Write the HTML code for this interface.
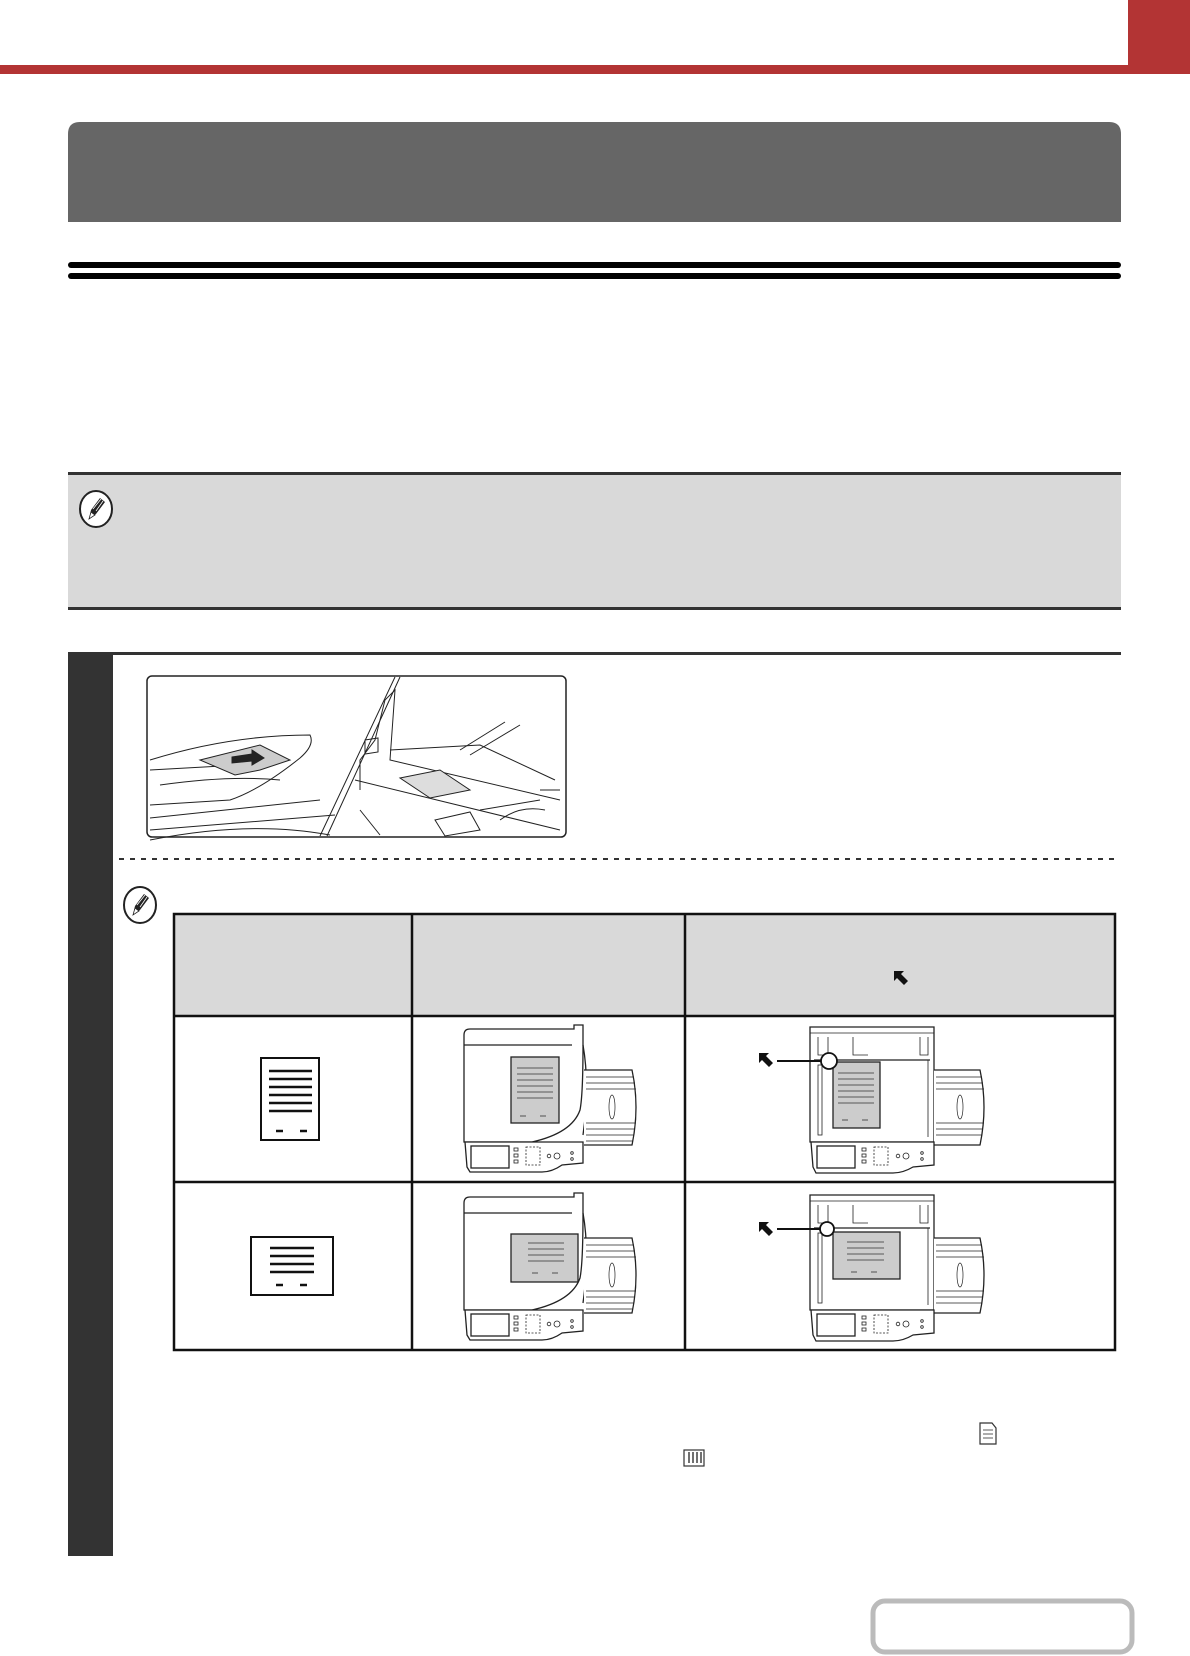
<!DOCTYPE html>
<html><head><meta charset="utf-8"><style>
html,body{margin:0;padding:0;background:#fff;}
body{width:1190px;height:1656px;overflow:hidden;font-family:"Liberation Sans",sans-serif;}
svg{display:block}
</style></head><body>
<svg width="1190" height="1656" viewBox="0 0 1190 1656" xmlns="http://www.w3.org/2000/svg">
<defs>
  <g id="adf" fill="none" stroke="#222" stroke-width="1.3">
    <path d="M2 10 Q2 4 8 4 L112 4 L112 0 L121 0 L121 20 Q121 70 118 85 Q110 108 70 117 L2 117 Z" fill="#fff"/>
    <line x1="2" y1="20" x2="110" y2="20"/>
    <path d="M121 20 Q128 60 121 110"/>
    <path d="M122 45 L170 45 Q178 82 170 120 L122 120" fill="#fff"/>
    <g stroke-width="0.7">
      <line x1="124" y1="52" x2="172" y2="52"/><line x1="124" y1="58" x2="173" y2="58"/>
      <line x1="124" y1="64" x2="174" y2="64"/><line x1="124" y1="98" x2="174" y2="98"/>
      <line x1="124" y1="104" x2="173" y2="104"/><line x1="124" y1="110" x2="172" y2="110"/>
      <line x1="124" y1="116" x2="171" y2="116"/>
      <ellipse cx="150" cy="82" rx="3" ry="12"/>
    </g>
    <path d="M3 117 L121 117 L121 138 L100 140 Q90 147 80 147 L8 147 L5 142 Z" fill="#fff"/>
    <rect x="9" y="121" width="38" height="22"/>
    <g stroke-width="0.8"><rect x="52" y="123" width="4" height="3"/><rect x="52" y="129" width="4" height="3"/><rect x="52" y="135" width="4" height="3"/>
    <rect x="64" y="122" width="14" height="18" stroke-dasharray="2 1.5"/><circle cx="87" cy="131" r="1.8"/><circle cx="95" cy="131" r="3"/><circle cx="110" cy="128" r="1.3"/><circle cx="110" cy="134" r="1.3"/></g>
  </g>
  <g id="glass" fill="none" stroke="#222" stroke-width="1.3">
    <path d="M2 2 L126 2 L126 117 L2 117 Z" fill="#fff"/>
    <path d="M2 8 L126 8" stroke-width="0.8"/>
    <path d="M10 12 L10 30 L20 30 L20 12 M112 12 L112 30 L120 30 L120 12 M45 12 L45 30 L60 30" stroke-width="0.8"/>
    <line x1="6" y1="35" x2="122" y2="35"/>
    <rect x="10" y="40" width="4" height="70" stroke-width="0.8"/>
    <line x1="120" y1="35" x2="120" y2="112" stroke-width="0.8"/>
    <path d="M126 45 L172 45 Q180 82 172 120 L126 120" fill="#fff"/>
    <g stroke-width="0.7">
      <line x1="128" y1="52" x2="174" y2="52"/><line x1="128" y1="58" x2="175" y2="58"/>
      <line x1="128" y1="64" x2="176" y2="64"/><line x1="128" y1="98" x2="176" y2="98"/>
      <line x1="128" y1="104" x2="175" y2="104"/><line x1="128" y1="110" x2="174" y2="110"/>
      <ellipse cx="152" cy="82" rx="3" ry="12"/>
    </g>
    <path d="M3 117 L126 117 L126 140 L105 142 Q95 148 85 148 L8 148 L5 142 Z" fill="#fff"/>
    <rect x="9" y="121" width="38" height="22"/>
    <g stroke-width="0.8"><rect x="54" y="123" width="4" height="3"/><rect x="54" y="129" width="4" height="3"/><rect x="54" y="135" width="4" height="3"/>
    <rect x="66" y="122" width="14" height="18" stroke-dasharray="2 1.5"/><circle cx="90" cy="131" r="1.8"/><circle cx="98" cy="131" r="3"/><circle cx="114" cy="128" r="1.3"/><circle cx="114" cy="134" r="1.3"/></g>
  </g>
  <g id="pencil">
    <ellipse cx="0" cy="0" rx="16" ry="18" fill="#fff" stroke="#222" stroke-width="2"/>
    <path d="M-7 10 L-5 1 L4 -11 L9 -7 L0 5 Z" fill="#222"/>
    <path d="M-7 10 L-5 3 L-1 6 Z" fill="#fff" stroke="#222" stroke-width="0.8"/>
    <path d="M-3 0 L5 -10 M0 2 L7 -8" stroke="#fff" stroke-width="0.8"/>
  </g>
  <g id="arr"><path d="M0 0 L10 0 L7 3 L14 10 L10 14 L3 7 L0 10 Z" fill="#111" transform="translate(1,1)"/></g>
</defs>

<rect x="0" y="65" width="1190" height="9" fill="#b33434"/>
<rect x="1128" y="0" width="62" height="74" fill="#b33434"/>

<path d="M68 222 L68 134 Q68 122 80 122 L1109 122 Q1121 122 1121 134 L1121 222 Z" fill="#666"/>

<rect x="68" y="262" width="1053" height="6" rx="3" fill="#000"/>
<rect x="68" y="273" width="1053" height="6" rx="3" fill="#000"/>

<rect x="68" y="472" width="1053" height="138" fill="#d9d9d9"/>
<rect x="68" y="472" width="1053" height="3" fill="#333"/>
<rect x="68" y="607" width="1053" height="3" fill="#333"/>
<use href="#pencil" x="96" y="509"/>

<rect x="68" y="652" width="1053" height="3" fill="#333"/>
<rect x="68" y="652" width="45" height="904" fill="#333"/>

<g>
<rect x="147" y="676" width="419" height="161" rx="5" fill="#fff" stroke="#222" stroke-width="1.5"/>
<g fill="none" stroke="#222" stroke-width="1">
  <path d="M320 836 L395 677 M327 836 L400 677"/>
  <path d="M150 760 Q230 735 310 735 Q315 745 300 758 Q260 790 230 800 L150 805"/>
  <path d="M150 770 L240 765 M150 818 L320 800 M150 830 L335 815 M160 785 Q230 775 280 780"/>
  <path d="M200 760 L260 745 L290 760 L260 770 L235 775 Z" fill="#ccc"/>
  <path d="M232 757 L252 754 L252 750 L264 758 L252 765 L252 761 L232 763 Z" fill="#222"/>
  <path d="M360 790 L360 760 L375 740 L385 700 L395 690 L390 760 L560 800 M355 780 L560 830"/>
  <path d="M390 750 L480 745 L555 780"/>
  <path d="M400 778 L440 770 L470 790 L430 798 Z" fill="#ddd"/>
  <path d="M435 820 L470 812 L480 830 L445 836 Z"/>
  <path d="M460 750 L505 722 M470 755 L520 725"/>
  <path d="M365 740 L378 738 L378 752 L365 754 Z"/>
  <path d="M480 810 L540 800 M500 820 Q520 805 545 810"/>
  <path d="M150 840 Q250 820 330 835"/>
  <path d="M360 810 L380 835 M540 790 L560 790"/>
</g>
</g>

<line x1="119" y1="859" x2="1114" y2="859" stroke="#333" stroke-width="2" stroke-dasharray="5 6"/>
<use href="#pencil" x="140" y="905"/>

<rect x="174" y="914" width="941" height="102" fill="#d9d9d9"/>
<g stroke="#111" stroke-width="2.5" fill="none">
  <rect x="174" y="914" width="941" height="436"/>
  <line x1="174" y1="1016" x2="1115" y2="1016"/>
  <line x1="174" y1="1182" x2="1115" y2="1182"/>
  <line x1="412" y1="914" x2="412" y2="1350"/>
  <line x1="685" y1="914" x2="685" y2="1350"/>
</g>
<use href="#arr" x="893" y="970"/>

<rect x="261" y="1058" width="58" height="82" fill="#fff" stroke="#111" stroke-width="2"/>
<g stroke="#111" stroke-width="2.5">
  <line x1="269" y1="1071" x2="312" y2="1071"/><line x1="269" y1="1079" x2="312" y2="1079"/>
  <line x1="269" y1="1087" x2="312" y2="1087"/><line x1="269" y1="1095" x2="312" y2="1095"/>
  <line x1="269" y1="1103" x2="312" y2="1103"/><line x1="269" y1="1111" x2="312" y2="1111"/>
  <line x1="276" y1="1131" x2="283" y2="1131"/><line x1="300" y1="1131" x2="307" y2="1131"/>
</g>
<rect x="251" y="1237" width="82" height="58" fill="#fff" stroke="#111" stroke-width="2"/>
<g stroke="#111" stroke-width="2.5">
  <line x1="270" y1="1248" x2="314" y2="1248"/><line x1="270" y1="1256" x2="314" y2="1256"/>
  <line x1="270" y1="1264" x2="314" y2="1264"/><line x1="270" y1="1272" x2="314" y2="1272"/>
  <line x1="276" y1="1285" x2="283" y2="1285"/><line x1="300" y1="1285" x2="307" y2="1285"/>
</g>

<use href="#adf" x="462" y="1025"/>
<rect x="511" y="1057" width="48" height="66" fill="#ccc" stroke="#222" stroke-width="1.3"/>
<g stroke="#333" stroke-width="0.8"><line x1="517" y1="1068" x2="553" y2="1068"/><line x1="517" y1="1074" x2="553" y2="1074"/><line x1="517" y1="1080" x2="553" y2="1080"/><line x1="517" y1="1086" x2="553" y2="1086"/><line x1="517" y1="1092" x2="553" y2="1092"/><line x1="517" y1="1098" x2="553" y2="1098"/><line x1="520" y1="1116" x2="526" y2="1116"/><line x1="540" y1="1116" x2="546" y2="1116"/></g>
<use href="#glass" x="808" y="1025"/>
<rect x="833" y="1062" width="47" height="66" fill="#ccc" stroke="#222" stroke-width="1.3"/>
<g stroke="#333" stroke-width="0.8"><line x1="838" y1="1073" x2="874" y2="1073"/><line x1="838" y1="1079" x2="874" y2="1079"/><line x1="838" y1="1085" x2="874" y2="1085"/><line x1="838" y1="1091" x2="874" y2="1091"/><line x1="838" y1="1097" x2="874" y2="1097"/><line x1="838" y1="1103" x2="874" y2="1103"/><line x1="842" y1="1120" x2="848" y2="1120"/><line x1="862" y1="1120" x2="868" y2="1120"/></g>
<use href="#arr" x="758" y="1052"/>
<line x1="777" y1="1061" x2="822" y2="1061" stroke="#111" stroke-width="2"/>
<circle cx="829" cy="1061" r="8" fill="#fff" stroke="#111" stroke-width="1.8"/>

<use href="#adf" x="462" y="1193"/>
<rect x="511" y="1234" width="67" height="48" fill="#ccc" stroke="#222" stroke-width="1.3"/>
<g stroke="#333" stroke-width="0.8"><line x1="528" y1="1243" x2="564" y2="1243"/><line x1="528" y1="1249" x2="564" y2="1249"/><line x1="528" y1="1255" x2="564" y2="1255"/><line x1="528" y1="1261" x2="564" y2="1261"/><line x1="532" y1="1273" x2="538" y2="1273"/><line x1="552" y1="1273" x2="558" y2="1273"/></g>
<use href="#glass" x="808" y="1193"/>
<rect x="833" y="1232" width="67" height="47" fill="#ccc" stroke="#222" stroke-width="1.3"/>
<g stroke="#333" stroke-width="0.8"><line x1="847" y1="1242" x2="884" y2="1242"/><line x1="847" y1="1248" x2="884" y2="1248"/><line x1="847" y1="1254" x2="884" y2="1254"/><line x1="847" y1="1260" x2="884" y2="1260"/><line x1="851" y1="1272" x2="857" y2="1272"/><line x1="871" y1="1272" x2="877" y2="1272"/></g>
<use href="#arr" x="758" y="1221"/>
<line x1="777" y1="1229" x2="822" y2="1229" stroke="#111" stroke-width="2"/>
<circle cx="827" cy="1229" r="7" fill="#fff" stroke="#111" stroke-width="1.8"/>

<path d="M980 1423 L992 1423 L996 1428 L996 1444 L980 1444 Z" fill="#fff" stroke="#333" stroke-width="1.2"/>
<g stroke="#333" stroke-width="0.8"><line x1="983" y1="1430" x2="993" y2="1430"/><line x1="983" y1="1434" x2="993" y2="1434"/><line x1="983" y1="1438" x2="993" y2="1438"/></g>
<rect x="684" y="1450" width="20" height="16" fill="#fff" stroke="#333" stroke-width="1.2"/>
<g stroke="#111" stroke-width="1.2"><line x1="689" y1="1452" x2="689" y2="1463"/><line x1="693" y1="1452" x2="693" y2="1463"/><line x1="697" y1="1452" x2="697" y2="1463"/><line x1="701" y1="1452" x2="701" y2="1463"/></g>

<rect x="873" y="1601" width="259" height="51" rx="12" fill="#fff" stroke="#bbb" stroke-width="5"/>
</svg>
</body></html>
